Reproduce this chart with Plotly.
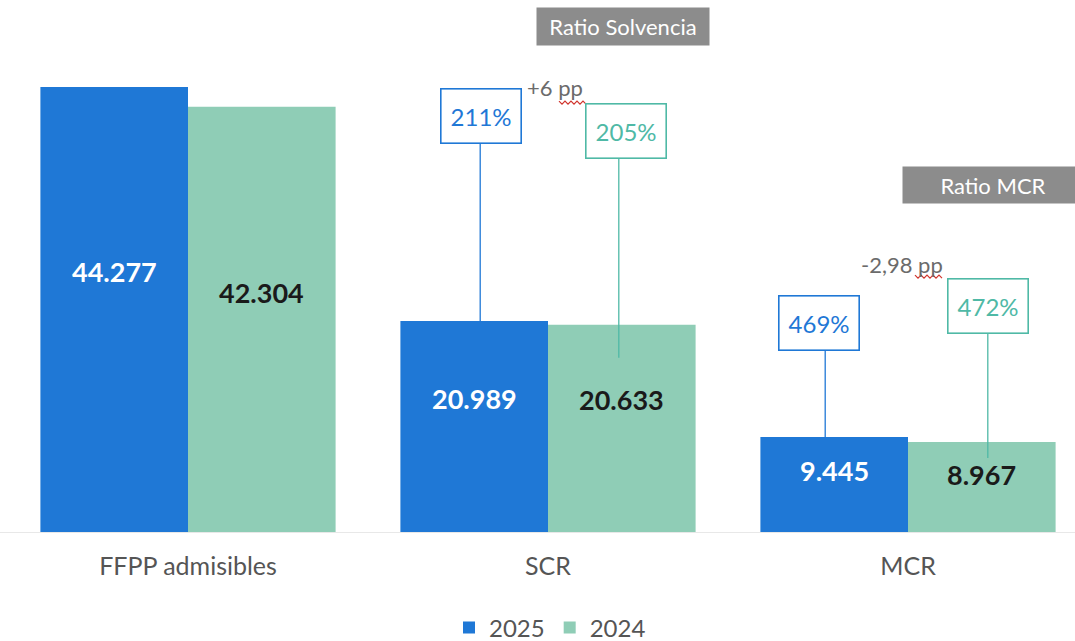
import plotly.graph_objects as go

categories = ["FFPP admisibles", "SCR", "MCR"]
years = ["2025", "2024"]
values_2025 = [44277, 20989, 9445]
values_2024 = [42304, 20633, 8967]
ratio_scr = ["211%", "205%"]
ratio_mcr = ["469%", "472%"]
delta_scr = "+6 pp"
delta_mcr = "-2,98 pp"

BLUE = "#1f78d6"
GREEN = "#8fcdb6"
TEAL = "#4fb9a6"
FONT = "Lato"

W, H = 1075, 641
T, B = 40, 109
PLOT_H = H - T - B
PX_PER_UNIT = 360                      # pixels per category
CAT0 = 188                             # pixel x of first category centre
x_range = [-CAT0 / PX_PER_UNIT, (W - CAT0) / PX_PER_UNIT]
y_max = 48953                          # 44277 sits ~445 px above the base
BAR_OFF = 0.205                        # half of a bar slot in category units


def fmt(v):
    return f"{v:,}".replace(",", ".")


x_idx = list(range(len(categories)))

fig = go.Figure()
fig.add_trace(go.Bar(x=x_idx, y=values_2025, name=years[0], marker=dict(color=BLUE, line_width=0)))
fig.add_trace(go.Bar(x=x_idx, y=values_2024, name=years[1], marker=dict(color=GREEN, line_width=0)))

ann = []
shapes = []

# value labels inside bars (pixel offsets down from bar top)
label_shift_25 = [-184, -77, -33]
label_shift_24 = [-186, -75, -33]
for i in x_idx:
    ann.append(dict(x=i - BAR_OFF, y=values_2025[i], yshift=label_shift_25[i], text=fmt(values_2025[i]),
                    showarrow=False, font=dict(family=FONT, size=27, color="white", weight="bold")))
    ann.append(dict(x=i + BAR_OFF, y=values_2024[i], yshift=label_shift_24[i], text=fmt(values_2024[i]),
                    showarrow=False, font=dict(family=FONT, size=27, color="#1a1a1a", weight="bold")))

# ratio boxes with connector lines
# (category index, bar offset sign, bar value, text, colour, box xshift, box yshift, line x px, line y0, line y1)
boxes = [
    (1, -1, values_2025[1], ratio_scr[0], BLUE, 7, 205, 6, 0, 178),
    (1, 1, values_2024[1], ratio_scr[1], TEAL, 4, 194, -3, -33, 167),
    (2, -1, values_2025[2], ratio_mcr[0], BLUE, -15, 114, -9, -1, 86),
    (2, 1, values_2024[2], ratio_mcr[1], TEAL, 6, 136, 6, -16, 109),
]
for ci, sgn, v, txt, col, xs, ys, lx, ly0, ly1 in boxes:
    xa = ci + sgn * BAR_OFF
    shapes.append(dict(type="line", xref="x", yref="y", xsizemode="pixel", ysizemode="pixel",
                       xanchor=xa, yanchor=v, x0=lx, x1=lx, y0=ly0, y1=ly1,
                       line=dict(color=col, width=1.3)))
    ann.append(dict(x=xa, y=v, xshift=xs, yshift=ys, text=txt, showarrow=False,
                    width=79, height=53, borderpad=0, bordercolor=col, borderwidth=1.6,
                    bgcolor="white", font=dict(family=FONT, size=24, color=col)))

# delta texts
ann.append(dict(x=1, y=values_2025[1], xshift=7, yshift=234, text=delta_scr, showarrow=False,
                font=dict(family=FONT, size=22, color="#6b6b6b")))
ann.append(dict(x=2, y=values_2025[2], xshift=-6, yshift=173, text=delta_mcr, showarrow=False,
                font=dict(family=FONT, size=22, color="#6b6b6b")))

# red wavy spell-check underlines under "pp"
wave = "M 0 0 L 3 -3 L 6 0 L 9 -3 L 12 0 L 15 -3 L 18 0 L 21 -3 L 24 0 L 27 -3"
for xa, ya, dx, dy in [(1, values_2025[1], 11, 220), (2, values_2025[2], 7, 162)]:
    path = " ".join(
        str(float(tok) + (dx if k % 3 == 1 else dy if k % 3 == 2 else 0)) if tok not in ("M", "L") else tok
        for k, tok in enumerate(wave.split())
    )
    shapes.append(dict(type="path", xref="x", yref="y", xsizemode="pixel", ysizemode="pixel",
                       xanchor=xa, yanchor=ya, path=path, line=dict(color="#d0342c", width=1.2)))

# grey header tags
ann.append(dict(x=(623 - CAT0) / PX_PER_UNIT, xref="x", y=(H - B - 26.5) / PLOT_H, yref="paper",
                yanchor="middle", text="Ratio Solvencia", showarrow=False, width=172, height=37,
                borderpad=0, bgcolor="#8c8c8c", font=dict(family=FONT, size=22, color="white")))
ann.append(dict(x=(993 - CAT0) / PX_PER_UNIT, xref="x", y=(H - B - 185) / PLOT_H, yref="paper",
                yanchor="middle", text="Ratio MCR", showarrow=False, width=180, height=36,
                borderpad=0, bgcolor="#8c8c8c", font=dict(family=FONT, size=22, color="white")))

fig.update_layout(
    width=W, height=H,
    margin=dict(l=0, r=0, t=T, b=B, autoexpand=False),
    paper_bgcolor="white", plot_bgcolor="white",
    barmode="group", bargap=0.18, bargroupgap=0,
    font=dict(family=FONT, color="#555555"),
    xaxis=dict(range=x_range, tickmode="array", tickvals=x_idx, ticktext=categories,
               tickfont=dict(size=25, color="#555555"), showgrid=False, zeroline=False,
               showline=True, linecolor="#e8e8e8", linewidth=1, ticks="", ticklabelstandoff=12),
    yaxis=dict(range=[0, y_max], visible=False, showgrid=False),
    legend=dict(orientation="h", x=550 / W, xanchor="center", y=-0.195, yanchor="middle",
                font=dict(size=24, color="#555555"), itemwidth=30, traceorder="normal"),
    annotations=ann,
    shapes=shapes,
    showlegend=True,
)

# drop the default 8px page margin so the figure fills the window exactly
fig.write_html("out.html", config={"displayModeBar": False},
               post_script="document.body.style.margin='0';document.body.style.overflow='hidden';")
